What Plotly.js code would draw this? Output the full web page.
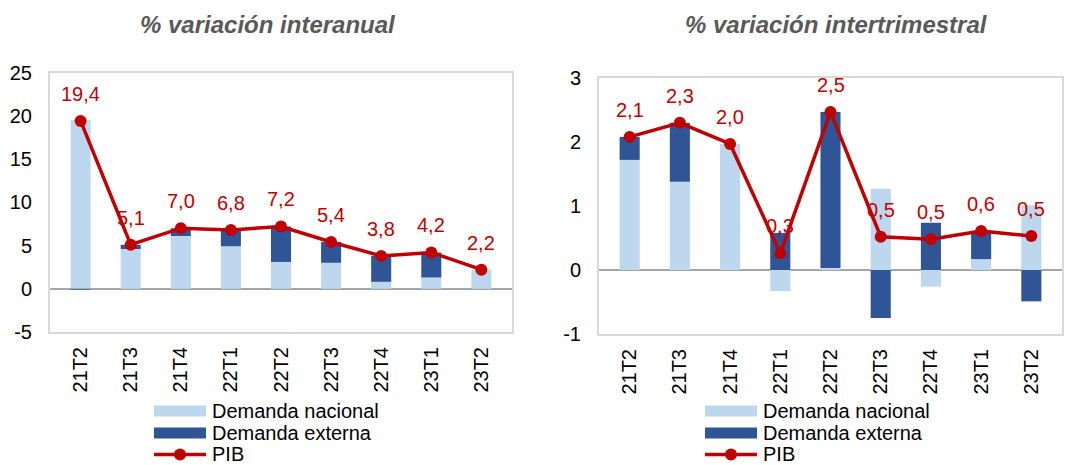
<!DOCTYPE html>
<html><head><meta charset="utf-8">
<script src="https://cdn.plot.ly/plotly-3.0.1.min.js"></script>
<style>html,body{margin:0;padding:0;background:#fff}#chart{width:1075px;height:465px}</style>
</head><body><div id="chart"></div>
<script>
// ---- data ----
const categories = ['21T2','21T3','21T4','22T1','22T2','22T3','22T4','23T1','23T2'];
const interanualNacional = [19.5, 4.6, 6.1, 4.9, 3.1, 3.0, 0.8, 1.3, 2.2];
const interanualExterna  = [-0.1, 0.5, 0.9, 1.9, 4.1, 2.4, 3.0, 2.9, 0.0];
const interanualPIB      = [19.4, 5.1, 7.0, 6.8, 7.2, 5.4, 3.8, 4.2, 2.2];
const intertrimNacional  = [1.72, 1.38, 1.97, -0.33, 0.03, 1.27, -0.26, 0.17, 1.01];
const intertrimExterna   = [0.36, 0.92, 0.0, 0.58, 2.44, -0.75, 0.74, 0.41, -0.49];
const intertrimPIB       = [2.08, 2.30, 1.97, 0.26, 2.47, 0.52, 0.48, 0.61, 0.53];
const leftTicks  = [-5, 0, 5, 10, 15, 20, 25];
const rightTicks = [-1, 0, 1, 2, 3];
const titles = ['% variación interanual', '% variación intertrimestral'];
const legendNames = ['Demanda nacional', 'Demanda externa', 'PIB'];

// ---- styles ----
const W = 1075, H = 465;
const px = x => x / W, py = y => 1 - y / H;
const FONT = 'Liberation Sans, Arial, sans-serif';
const LIGHT = '#bdd7ee', DARK = '#2f5597', RED = '#c00000';
const fmt = v => v.toFixed(1).replace('.', ',');

function traces(nac, ext, pib, xa, ya) {
  return [
    {type: 'bar', x: categories, y: nac, xaxis: xa, yaxis: ya, name: legendNames[0],
     marker: {color: LIGHT, line: {width: 0}}, showlegend: false, hoverinfo: 'skip'},
    {type: 'bar', x: categories, y: ext, xaxis: xa, yaxis: ya, name: legendNames[1],
     marker: {color: DARK, line: {width: 0}}, showlegend: false, hoverinfo: 'skip'},
    {type: 'scatter', mode: 'lines+markers', x: categories, y: pib, xaxis: xa, yaxis: ya, name: legendNames[2],
     line: {color: RED, width: 3.5}, marker: {color: RED, size: 12}, showlegend: false, hoverinfo: 'skip'}
  ];
}
const data = [].concat(
  traces(interanualNacional, interanualExterna, interanualPIB, 'x', 'y'),
  traces(intertrimNacional, intertrimExterna, intertrimPIB, 'x2', 'y2')
);

function xaxis(domain, anchor) {
  return {domain: domain, anchor: anchor, type: 'category', showline: true, mirror: true,
    linecolor: '#d9d9d9', linewidth: 2, ticks: '', tickangle: -90, showgrid: false,
    tickfont: {family: FONT, size: 20, color: '#000'}, ticklabelstandoff: 5, fixedrange: true};
}
function yaxis(domain, anchor, range, ticks) {
  return {domain: domain, anchor: anchor, range: range, tickvals: ticks, ticktext: ticks.map(String),
    showgrid: false, zeroline: true, zerolinecolor: '#a6a6a6', zerolinewidth: 2,
    showline: true, mirror: true, linecolor: '#d9d9d9', linewidth: 2, ticks: '',
    tickfont: {family: FONT, size: 20, color: '#000'}, ticklabelstandoff: 12, fixedrange: true};
}

const annotations = [];
function labels(pib, xr, yr) {
  categories.forEach((c, i) => annotations.push({x: c, y: pib[i], xref: xr, yref: yr, text: fmt(pib[i]),
    showarrow: false, yshift: 27, font: {family: FONT, size: 20, color: RED}}));
}
labels(interanualPIB, 'x', 'y');
labels(intertrimPIB, 'x2', 'y2');
[[titles[0], 268], [titles[1], 836]].forEach(([t, cx]) => annotations.push({
  text: '<b><i>' + t + '</i></b>', x: px(cx), y: py(25), xref: 'paper', yref: 'paper',
  showarrow: false, xanchor: 'center', yanchor: 'middle',
  font: {family: FONT, size: 24, color: '#595959'}}));

// manual legends
const shapes = [];
[[154, 211], [705, 762]].forEach(([sx, tx]) => {
  const rows = [411, 433, 454.5];
  const textRows = [410.5, 432.5, 453.5];
  shapes.push({type: 'rect', xref: 'paper', yref: 'paper', x0: px(sx), x1: px(sx + 52), y0: py(rows[0] + 5.5), y1: py(rows[0] - 5.5), fillcolor: LIGHT, line: {width: 0}});
  shapes.push({type: 'rect', xref: 'paper', yref: 'paper', x0: px(sx), x1: px(sx + 52), y0: py(rows[1] + 5.5), y1: py(rows[1] - 5.5), fillcolor: DARK, line: {width: 0}});
  shapes.push({type: 'line', xref: 'paper', yref: 'paper', x0: px(sx), x1: px(sx + 52), y0: py(rows[2]), y1: py(rows[2]), line: {color: RED, width: 3.5}});
  shapes.push({type: 'circle', xref: 'paper', yref: 'paper', x0: px(sx + 26 - 6), x1: px(sx + 26 + 6), y0: py(rows[2] + 6), y1: py(rows[2] - 6), fillcolor: RED, line: {width: 0}});
  legendNames.forEach((n, i) => annotations.push({text: n, x: px(tx), y: py(textRows[i]), xref: 'paper', yref: 'paper',
    showarrow: false, xanchor: 'left', yanchor: 'middle', borderpad: 0, font: {family: FONT, size: 20, color: '#000'}}));
});

const layout = {
  width: W, height: H, margin: {l: 0, r: 0, t: 0, b: 0},
  paper_bgcolor: '#fff', plot_bgcolor: '#fff',
  barmode: 'relative', bargap: 0.6, showlegend: false,
  font: {family: FONT},
  xaxis: xaxis([px(50), px(512)], 'y'),
  yaxis: yaxis([py(332), py(72.5)], 'x', [-5, 25], leftTicks),
  xaxis2: xaxis([px(599), px(1062)], 'y2'),
  yaxis2: yaxis([py(334), py(78)], 'x2', [-1, 3], rightTicks),
  annotations: annotations, shapes: shapes
};
Plotly.newPlot('chart', data, layout, {displayModeBar: false, staticPlot: true});
</script></body></html>
